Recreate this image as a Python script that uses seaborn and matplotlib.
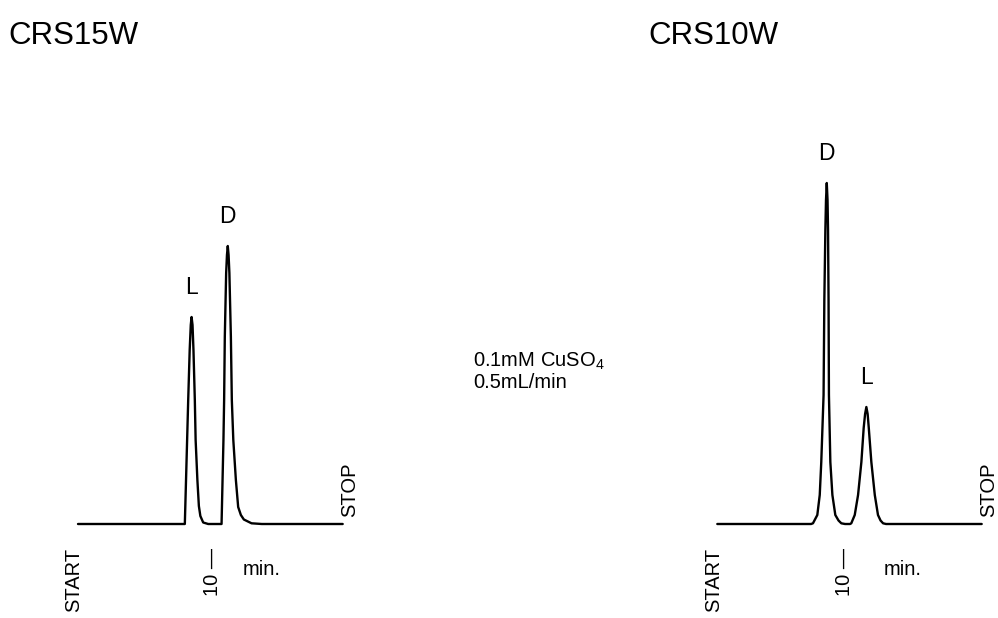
import numpy as np
import pandas as pd
import matplotlib.pyplot as plt
import seaborn as sns

# chromatogram traces: time [min], detector signal [a.u.]
crs15_time = [0.0, 7.91, 8.08, 8.16, 8.27, 8.35, 8.41, 8.48, 8.55, 8.65, 8.71, 8.84, 8.95,
              9.06, 9.27, 9.64, 10.63, 10.77, 10.82, 10.87, 10.97, 11.03, 11.09, 11.15,
              11.21, 11.32, 11.39, 11.50, 11.69, 11.86, 12.06, 12.28, 12.85, 13.61, 19.6]
crs15_signal = [0.0, 0.0, 0.84, 1.24, 1.74, 1.99, 2.07, 1.99, 1.74, 1.24, 0.84, 0.44, 0.18,
                0.08, 0.015, 0.0, 0.0, 0.84, 1.24, 1.87, 2.51, 2.69, 2.78, 2.69,
                2.51, 1.87, 1.24, 0.84, 0.44, 0.17, 0.09, 0.045, 0.007, 0.0, 0.0]
crs15_peaks = ['L', 'D']
crs15_peak_time = [8.41, 11.09]
crs15_stop = 19.6

crs10_time = [0.0, 7.34, 7.49, 7.83, 8.02, 8.14, 8.32, 8.38, 8.46, 8.51, 8.57, 8.63, 8.67,
              8.71, 8.74, 8.85, 9.01, 9.24, 9.49, 9.71, 10.0, 10.39, 10.49, 10.76, 11.02,
              11.28, 11.46, 11.57, 11.67, 11.77, 11.86, 12.06, 12.33, 12.58, 12.78, 12.98,
              13.21, 20.7]
crs10_signal = [0.0, 0.0, 0.007, 0.09, 0.29, 0.62, 1.29, 2.24, 2.94, 3.24, 3.41, 3.24, 2.94,
                2.24, 1.29, 0.62, 0.29, 0.09, 0.035, 0.007, 0.0, 0.0, 0.007, 0.09, 0.29,
                0.62, 0.96, 1.10, 1.17, 1.10, 0.96, 0.62, 0.29, 0.09, 0.035, 0.007,
                0.0, 0.0]
crs10_peaks = ['D', 'L']
crs10_peak_time = [8.57, 11.67]
crs10_stop = 20.7

titles = ['CRS15W', 'CRS10W']
tick_time = 10
conditions = ['0.1mM CuSO$_4$', '0.5mL/min']

sns.set_theme(style='white')
plt.rcParams['font.family'] = ['Liberation Sans', 'DejaVu Sans']
plt.rcParams['text.color'] = 'black'
plt.rcParams['mathtext.fontset'] = 'custom'
plt.rcParams['mathtext.rm'] = 'Liberation Sans'
plt.rcParams['mathtext.it'] = 'Liberation Sans:italic'
plt.rcParams['mathtext.bf'] = 'Liberation Sans:bold'

W, H = 998, 618
PX = 0.72  # points per pixel at dpi 100

fig = plt.figure(figsize=(W / 100, H / 100), dpi=100)


def draw_panel(rect, time, signal, stop, peaks, peak_time, min_dx):
    ax = fig.add_axes([rect[0] / W, 74 / H, rect[1] / W, 420 / H])
    df = pd.DataFrame({'time': time, 'signal': signal})
    sns.lineplot(data=df, x='time', y='signal', ax=ax, color='black', linewidth=1.7,
                 sort=False, estimator=None, clip_on=False)
    ax.set_xlim(0, stop)
    ax.set_ylim(-0.2, 4.0)
    ax.set_axis_off()

    # peak labels above the apex
    for name, t in zip(peaks, peak_time):
        i = int(np.argmin(np.abs(np.array(time) - t)))
        ax.annotate(name, (time[i], signal[i]), xytext=(0, 23 * PX), color='black',
                    textcoords='offset points', ha='center', va='baseline', fontsize=16.5)

    ax.annotate('START', (0, 0), xytext=(-4 * PX, -24 * PX), textcoords='offset points',
                rotation=90, ha='center', va='top', fontsize=14.5, color='black')
    ax.annotate('STOP', (stop, 0), xytext=(6.5 * PX, 7 * PX), textcoords='offset points',
                rotation=90, ha='center', va='bottom', fontsize=14.5, color='black')
    ax.annotate('10 \u2014', (tick_time, 0), xytext=(-1 * PX, -24 * PX), textcoords='offset points',
                rotation=90, ha='center', va='top', fontsize=14.5, color='black')
    ax.annotate('min.', (tick_time, 0), xytext=(min_dx * PX, -51 * PX), textcoords='offset points',
                ha='left', va='baseline', fontsize=14.5, color='black')
    return ax


draw_panel((78, 264.7), crs15_time, crs15_signal, crs15_stop, crs15_peaks, crs15_peak_time, 30)
draw_panel((717.3, 264.4), crs10_time, crs10_signal, crs10_stop, crs10_peaks, crs10_peak_time, 39)

fig.text(8 / W, 1 - 44 / H, titles[0], fontsize=22.5, ha='left', va='baseline', color='black')
fig.text(648 / W, 1 - 44 / H, titles[1], fontsize=22.5, ha='left', va='baseline', color='black')

fig.text(473 / W, 1 - 367 / H, conditions[0], fontsize=14.5, ha='left', va='baseline', color='black')
fig.text(473 / W, 1 - 388 / H, conditions[1], fontsize=14.5, ha='left', va='baseline', color='black')

fig.savefig('out.png', dpi=100)
